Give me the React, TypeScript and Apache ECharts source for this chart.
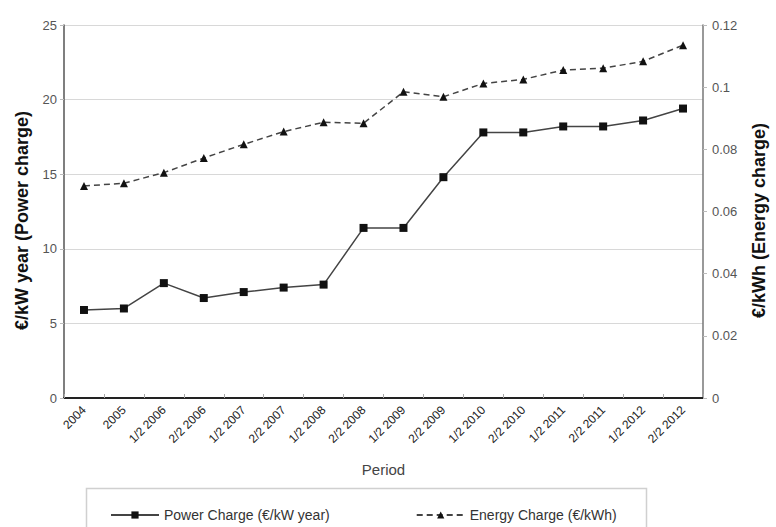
import React, { useEffect, useRef } from "react";
import * as echarts from "echarts";

const categories = [
  "2004", "2005", "1/2 2006", "2/2 2006", "1/2 2007", "2/2 2007", "1/2 2008", "2/2 2008",
  "1/2 2009", "2/2 2009", "1/2 2010", "2/2 2010", "1/2 2011", "2/2 2011", "1/2 2012", "2/2 2012",
];
const powerCharge = [5.9, 6.0, 7.7, 6.7, 7.1, 7.4, 7.6, 11.4, 11.4, 14.8, 17.8, 17.8, 18.2, 18.2, 18.6, 19.4];
const energyCharge = [
  0.0682, 0.0691, 0.0725, 0.0772, 0.0816, 0.0857, 0.0887, 0.0884,
  0.0985, 0.0969, 0.1012, 0.1025, 0.1055, 0.1061, 0.1083, 0.1135,
];
const leftTicks = { min: 0, max: 25, interval: 5 };
const rightTicks = { min: 0, max: 0.12, interval: 0.02 };

const FONT = "'Liberation Sans', Arial, sans-serif";

export default function App() {
  const ref = useRef<HTMLDivElement>(null);
  useEffect(() => {
    if (!ref.current) return;
    const chart = echarts.init(ref.current, null, { renderer: "svg" });
    chart.setOption({
      animation: false,
      backgroundColor: "#fff",
      textStyle: { fontFamily: FONT },
      grid: { left: 64, right: 66, top: 25, bottom: 129 },
      legend: {
        left: 105,
        top: 503,
        itemGap: 86,
        itemWidth: 48,
        itemHeight: 9,
        textStyle: { fontSize: 14, color: "#333", fontFamily: FONT },
        data: ["Power Charge (€/kW year)", "Energy Charge (€/kWh)"],
      },
      graphic: [
        {
          type: "rect",
          left: 84,
          top: 486,
          shape: { width: 560, height: 60 },
          style: { fill: "none", stroke: "#d0d0d0", lineWidth: 1.5 },
          z: -1,
        },
      ],
      xAxis: {
        type: "category",
        data: categories,
        boundaryGap: true,
        axisLine: { lineStyle: { color: "#222", width: 2 } },
        axisTick: { show: true, inside: true, length: 4, lineStyle: { color: "#aaa" } },
        axisLabel: { rotate: 45, fontSize: 12, color: "#222", margin: 10, interval: 0, padding: [12, 0, 0, 0] },
        name: "Period",
        nameLocation: "middle",
        nameGap: 64,
        nameTextStyle: { fontSize: 15, color: "#444" },
      },
      yAxis: [
        {
          type: "value",
          ...leftTicks,
          position: "left",
          axisLine: { show: true, lineStyle: { color: "#555", width: 1.5 } },
          axisTick: { show: true, length: 4, lineStyle: { color: "#bbb" } },
          axisLabel: { fontSize: 13, color: "#555", margin: 7 },
          splitLine: { show: true, lineStyle: { color: "#d8d8d8", width: 1 } },
          name: "€/kW year (Power charge)",
          nameLocation: "middle",
          nameRotate: 90,
          nameGap: 33,
          nameTextStyle: { fontSize: 18, fontWeight: "bold", color: "#111", padding: [0, 18, 0, 0] },
        },
        {
          type: "value",
          ...rightTicks,
          position: "right",
          axisLine: { show: true, lineStyle: { color: "#777", width: 1.5 } },
          axisTick: { show: true, length: 4, lineStyle: { color: "#bbb" } },
          axisLabel: { fontSize: 13, color: "#555", margin: 9 },
          splitLine: { show: false },
          name: "€/kWh (Energy charge)",
          nameLocation: "middle",
          nameRotate: 90,
          nameGap: 47,
          nameTextStyle: { fontSize: 18, fontWeight: "bold", color: "#111", padding: [0, 18, 0, 0] },
        },
      ],
      series: [
        {
          name: "Power Charge (€/kW year)",
          type: "line",
          yAxisIndex: 0,
          data: powerCharge,
          symbol: "rect",
          symbolSize: 8,
          itemStyle: { color: "#111" },
          lineStyle: { color: "#444", width: 1.5, type: "solid" },
        },
        {
          name: "Energy Charge (€/kWh)",
          type: "line",
          yAxisIndex: 1,
          data: energyCharge,
          symbol: "triangle",
          symbolSize: 8,
          itemStyle: { color: "#111" },
          lineStyle: { color: "#444", width: 1.5, type: [6, 4] },
        },
      ],
    });
    return () => chart.dispose();
  }, []);
  return <div ref={ref} style={{ width: 776, height: 527, position: "absolute", left: 0, top: 0 }} />;
}
